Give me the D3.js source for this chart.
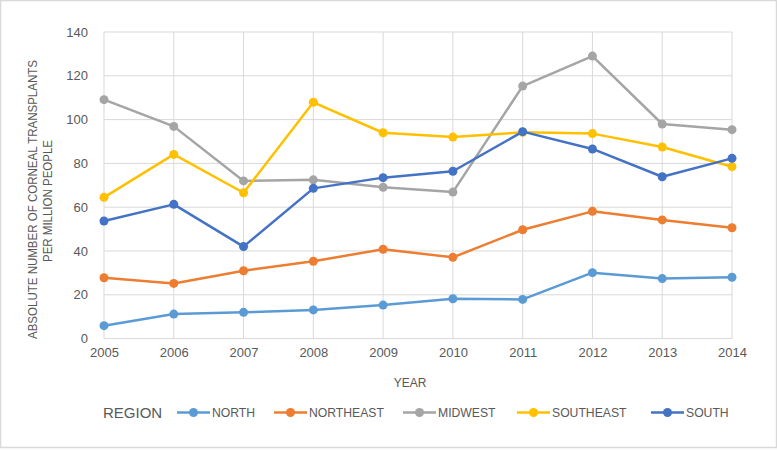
<!DOCTYPE html>
<html><head><meta charset="utf-8">
<script src="https://cdn.jsdelivr.net/npm/d3@7"></script>
<style>
html,body{margin:0;padding:0;background:#fff;}
svg{display:block;font-family:"Liberation Sans",Arial,sans-serif;}
</style></head>
<body>
<svg id="chart" width="777" height="450"></svg>
<script>
const years = [2005,2006,2007,2008,2009,2010,2011,2012,2013,2014];
const north     = [5.9, 11.2, 12.0, 13.1, 15.3, 18.2, 17.9, 30.1, 27.4, 28.0];
const northeast = [27.8, 25.2, 31.0, 35.3, 40.8, 37.1, 49.7, 58.1, 54.2, 50.6];
const midwest   = [109.1, 96.9, 72.0, 72.5, 69.1, 66.9, 115.3, 129.0, 98.0, 95.4];
const southeast = [64.5, 84.1, 66.6, 107.9, 94.0, 92.0, 94.2, 93.6, 87.5, 78.5];
const south     = [53.7, 61.3, 42.0, 68.6, 73.5, 76.4, 94.5, 86.6, 73.9, 82.3];
const seriesNames = ["NORTH","NORTHEAST","MIDWEST","SOUTHEAST","SOUTH"];
const seriesValues = [north, northeast, midwest, southeast, south];
const colors = ["#5B9BD5","#ED7D31","#A5A5A5","#FFC000","#4472C4"];
const yTicks = [0,20,40,60,80,100,120,140];

(function(){
const svg = d3.select("#chart");
svg.append("rect").attr("x",0.5).attr("y",0.5).attr("width",776).attr("height",447)
  .attr("fill","#fff").attr("stroke","#d9d9d9").attr("stroke-width",1.5);

const pLeft=104, pRight=732, pTop=32, pBottom=338.6;
const x = d3.scalePoint().domain(years).range([pLeft,pRight]);
const y = d3.scaleLinear().domain([0,140]).range([pBottom,pTop]);

const grid = svg.append("g");
grid.selectAll("line.h").data(yTicks).join("line").attr("class","h")
  .attr("x1",pLeft).attr("x2",pRight).attr("y1",d=>y(d)).attr("y2",d=>y(d))
  .attr("stroke","#d9d9d9").attr("stroke-width",1);
grid.selectAll("line.v").data(years).join("line").attr("class","v")
  .attr("x1",d=>x(d)).attr("x2",d=>x(d)).attr("y1",pTop).attr("y2",pBottom)
  .attr("stroke","#d9d9d9").attr("stroke-width",1);

const yAxis = svg.append("g").attr("transform",`translate(${pLeft},0)`)
  .call(d3.axisLeft(y).tickValues(yTicks).tickSize(0).tickPadding(16));
yAxis.select(".domain").remove();
yAxis.selectAll("text").attr("font-size",13).attr("fill","#595959")
  .attr("font-family","Liberation Sans, Arial, sans-serif");

const xAxis = svg.append("g").attr("transform",`translate(0,${pBottom})`)
  .call(d3.axisBottom(x).tickFormat(d3.format("d")).tickSize(0).tickPadding(9));
xAxis.select(".domain").remove();
xAxis.selectAll("text").attr("font-size",13).attr("fill","#595959")
  .attr("font-family","Liberation Sans, Arial, sans-serif");

svg.append("text").attr("x",410).attr("y",387).attr("text-anchor","middle")
  .attr("font-size",12).attr("fill","#595959").text("YEAR");

svg.append("text").attr("transform","translate(37,199.5) rotate(-90)").attr("text-anchor","middle")
  .attr("font-size",12).attr("fill","#595959")
  .attr("textLength",279).attr("lengthAdjust","spacingAndGlyphs")
  .text("ABSOLUTE NUMBER OF CORNEAL TRANSPLANTS");
svg.append("text").attr("transform","translate(52,201) rotate(-90)").attr("text-anchor","middle")
  .attr("font-size",12).attr("fill","#595959")
  .attr("textLength",122).attr("lengthAdjust","spacingAndGlyphs")
  .text("PER MILLION PEOPLE");

const line = d3.line().x((d,i)=>x(years[i])).y(d=>y(d));
seriesValues.forEach((vals,si)=>{
  const g = svg.append("g");
  g.append("path").datum(vals).attr("d",line).attr("fill","none")
    .attr("stroke",colors[si]).attr("stroke-width",2.5).attr("stroke-linejoin","round");
  g.selectAll("circle").data(vals).join("circle")
    .attr("cx",(d,i)=>x(years[i])).attr("cy",d=>y(d)).attr("r",4.5).attr("fill",colors[si]);
});

const ly = 412.5;
svg.append("text").attr("x",103).attr("y",ly+5.5).attr("font-size",15).attr("fill","#595959").text("REGION");
const legX = [177, 274, 403, 517, 651];
seriesNames.forEach((n,i)=>{
  const g = svg.append("g").attr("transform",`translate(${legX[i]},${ly})`);
  g.append("line").attr("x1",0).attr("x2",33).attr("stroke",colors[i]).attr("stroke-width",2.5);
  g.append("circle").attr("cx",16.5).attr("r",4.5).attr("fill",colors[i]);
  g.append("text").attr("x",35).attr("y",4.5).attr("font-size",12.2).attr("fill","#595959").text(n);
});
})();
</script>
</body></html>
